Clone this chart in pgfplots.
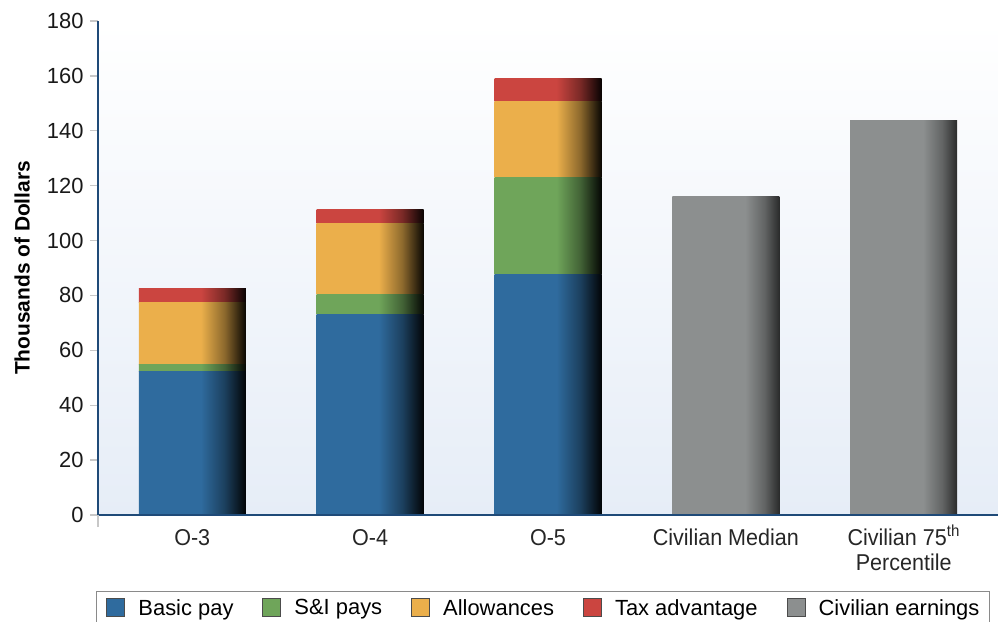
\documentclass[border=0pt]{standalone}
\usepackage{pgfplots}
\pgfplotsset{compat=1.18}
\usepackage{fontspec}
\setmainfont{Liberation Sans}
\newfontfamily\condfont[FakeStretch=0.94]{Liberation Sans}

\definecolor{cblue}{HTML}{2F6B9E}
\definecolor{cgreen}{HTML}{6FA55A}
\definecolor{corange}{HTML}{EBAF4B}
\definecolor{cred}{HTML}{CB4540}
\definecolor{cgrey}{HTML}{8C8F8F}
\definecolor{axisblue}{HTML}{1F4A78}
\definecolor{gridgrey}{HTML}{C8C8C8}
\definecolor{bgblue}{HTML}{E6EDF7}
\definecolor{legendgrey}{HTML}{8A8A8A}

\pgfdeclarehorizontalshading{shblue}{100bp}{color(0bp)=(cblue); color(25bp)=(cblue); color(54bp)=(cblue); color(65bp)=(cblue!60!black); color(75bp)=(cblue!4!black); color(100bp)=(cblue!4!black)}
\pgfdeclarehorizontalshading{shgreen}{100bp}{color(0bp)=(cgreen); color(25bp)=(cgreen); color(54bp)=(cgreen); color(65bp)=(cgreen!60!black); color(75bp)=(cgreen!4!black); color(100bp)=(cgreen!4!black)}
\pgfdeclarehorizontalshading{shorange}{100bp}{color(0bp)=(corange); color(25bp)=(corange); color(54bp)=(corange); color(65bp)=(corange!60!black); color(75bp)=(corange!4!black); color(100bp)=(corange!4!black)}
\pgfdeclarehorizontalshading{shred}{100bp}{color(0bp)=(cred); color(25bp)=(cred); color(54bp)=(cred); color(65bp)=(cred!60!black); color(75bp)=(cred!4!black); color(100bp)=(cred!4!black)}
\pgfdeclarehorizontalshading{shgrey}{100bp}{color(0bp)=(cgrey); color(25bp)=(cgrey); color(59bp)=(cgrey); color(68bp)=(cgrey!70!black); color(75bp)=(cgrey!30!black); color(100bp)=(cgrey!30!black)}

\pgfplotsset{
  common/.style={
    scale only axis, width=900bp, height=494bp,
    xmin=-0.53, xmax=4.53, ymin=0, ymax=180,
  },
  barcol/.style={common, ybar stacked, bar width=107bp, axis lines=none, xtick=\empty, ytick=\empty},
  sblue/.style={draw=none, shade, shading=shblue},
  sgreen/.style={draw=none, shade, shading=shgreen},
  sorange/.style={draw=none, shade, shading=shorange},
  sred/.style={draw=none, shade, shading=shred},
  sgrey/.style={draw=none, shade, shading=shgrey},
}

\begin{document}
\begin{tikzpicture}
\useasboundingbox (-98bp,-107bp) rectangle (900bp,515bp);
% background, grid and civilian bars
\begin{axis}[common,
  ybar, bar width=107bp, bar shift=0pt,
  axis lines=none,
  axis background/.style={shade, top color=white, bottom color=bgblue},
  ymajorgrids, ytick={0,20,...,180}, yticklabels={},
  xtick=\empty,
  major tick length=0pt,
  grid style={draw=gridgrey, line width=1.3bp},
]
\addplot[sgrey] coordinates {(3,116.1)};
\addplot[sgrey] coordinates {(4,143.9)};
\end{axis}
% O-3 (stacked: basic pay, S&I pays, allowances, tax advantage)
\begin{axis}[barcol]
\addplot[sblue] coordinates {(0,52.4)};
\addplot[sgreen] coordinates {(0,2.5)};
\addplot[sorange] coordinates {(0,22.7)};
\addplot[sred] coordinates {(0,4.8)};
\end{axis}
% O-4
\begin{axis}[barcol]
\addplot[sblue] coordinates {(1,72.9)};
\addplot[sgreen] coordinates {(1,7.3)};
\addplot[sorange] coordinates {(1,26.0)};
\addplot[sred] coordinates {(1,5.1)};
\end{axis}
% O-5
\begin{axis}[barcol]
\addplot[sblue] coordinates {(2,87.5)};
\addplot[sgreen] coordinates {(2,35.5)};
\addplot[sorange] coordinates {(2,27.5)};
\addplot[sred] coordinates {(2,8.5)};
\end{axis}
% axis lines, ticks, labels, legend
\begin{axis}[common,
  axis lines*=left,
  axis line style={draw=axisblue, line width=2.2bp},
  ytick={0,20,...,180},
  tick align=outside,
  major tick length=8bp,
  ytick style={draw=gridgrey, line width=1.3bp},
  /pgf/number format/assume math mode=true,
  yticklabel style={font=\fontsize{22}{25}\selectfont, text=black!90, xshift=-3bp},
  xtick={0,1,2,3,4},
  xticklabels={O-3, O-4, O-5, Civilian Median, {Civilian 75\smash{\textsuperscript{th}}\\Percentile}},
  xtick style={draw=none},
  xticklabel style={font=\condfont\fontsize{23}{25}\selectfont, align=center, anchor=north, inner sep=0pt, yshift=-6bp, text=black!85},
  extra x ticks={-0.53},
  extra x tick labels={},
  extra x tick style={major tick length=12bp, xtick style={draw=gridgrey, line width=1.3bp}},
  ylabel={Thousands of Dollars},
  ylabel style={at={(axis description cs:-0.0844,0.5)}, anchor=center, font=\bfseries\fontsize{21}{24}\selectfont},
  legend columns=5,
  legend image code/.code={\draw[#1, draw=black!70, line width=1bp] (0bp,-9bp) rectangle (18bp,9bp);},
  legend style={at={(axis description cs:0.4944,-0.1538)}, anchor=north,
    draw=legendgrey, line width=1bp, inner xsep=10bp, inner ysep=7bp,
    font=\fontsize{22}{26}\selectfont,
    nodes={inner sep=0pt},
    /tikz/every odd column/.append style={column sep=13bp},
    /tikz/every even column/.append style={column sep=29bp}},
]
\addlegendimage{fill=cblue}
\addlegendentry{Basic pay}
\addlegendimage{fill=cgreen}
\addlegendentry{S\&I pays}
\addlegendimage{fill=corange}
\addlegendentry{Allowances}
\addlegendimage{fill=cred}
\addlegendentry{Tax advantage}
\addlegendimage{fill=cgrey}
\addlegendentry{Civilian earnings}
\end{axis}
\end{tikzpicture}
\end{document}
